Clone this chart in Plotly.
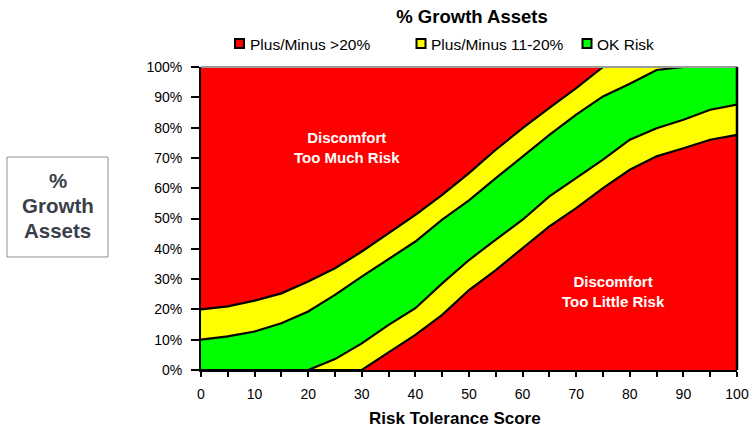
import plotly.graph_objects as go

# Risk tolerance score (x) and boundary curves of the comfort bands (% growth assets)
score = [0, 5, 10, 15, 20, 25, 30, 35, 40, 45, 50, 55, 60, 65, 70, 75, 80, 85, 90, 95, 100]
upper_outer = [20, 21, 22.9, 25.3, 29.2, 33.6, 39.1, 45.2, 51.2, 57.8, 65, 72.7, 79.8, 86.5, 93, 100, 100, 100, 100, 100, 100]
upper_inner = [10, 11.1, 12.7, 15.4, 19.3, 24.8, 30.8, 36.6, 42.4, 49.6, 56, 63.3, 70.5, 77.6, 84.3, 90.3, 94.5, 99, 100, 100, 100]
lower_inner = [0, 0, 0, 0, 0, 3.6, 8.8, 14.9, 20.4, 28.6, 36.3, 43, 49.6, 57.3, 63.3, 69.4, 76, 79.8, 82.6, 85.9, 87.6]
lower_outer = [0, 0, 0, 0, 0, 0, 0, 5.8, 11.6, 18.2, 26.4, 33, 40.2, 47.4, 53.4, 60, 66.1, 70.5, 73.2, 76, 77.6]

y_ticks = [0, 10, 20, 30, 40, 50, 60, 70, 80, 90, 100]
y_labels = [f"{v}%" for v in y_ticks]
x_ticks = [0, 10, 20, 30, 40, 50, 60, 70, 80, 90, 100]

legend_names = ["Plus/Minus >20%", "Plus/Minus 11-20%", "OK Risk"]

RED, YELLOW, GREEN = "#FF0000", "#FFFF00", "#00FF00"
legend_colors = [RED, YELLOW, GREEN]
FONT = "Arial, Liberation Sans, sans-serif"

# plot-area geometry in pixels
L, R, T, B = 201, 737, 67, 370
PW, PH = R - L, B - T


def px_x(p):
    return (p - L) / PW


def px_y(p):
    return (B - p) / PH


fig = go.Figure()

# yellow band (+/- 11-20%)
fig.add_trace(go.Scatter(x=score, y=lower_outer, mode="lines", line=dict(width=0),
                         showlegend=False, hoverinfo="skip"))
fig.add_trace(go.Scatter(x=score, y=upper_outer, mode="lines", line=dict(width=0),
                         fill="tonexty", fillcolor=YELLOW, showlegend=False, hoverinfo="skip"))
# green band (OK risk)
fig.add_trace(go.Scatter(x=score, y=lower_inner, mode="lines", line=dict(width=0),
                         showlegend=False, hoverinfo="skip"))
fig.add_trace(go.Scatter(x=score, y=upper_inner, mode="lines", line=dict(width=0),
                         fill="tonexty", fillcolor=GREEN, showlegend=False, hoverinfo="skip"))

# black boundary lines
for series in (upper_outer, upper_inner, lower_inner, lower_outer):
    fig.add_trace(go.Scatter(x=score, y=series, mode="lines",
                             line=dict(color="black", width=2.2),
                             showlegend=False, hoverinfo="skip"))

fig.update_layout(
    width=753, height=430,
    margin=dict(l=L, r=753 - R, t=T, b=430 - B, autoexpand=False),
    paper_bgcolor="white",
    plot_bgcolor=RED,
    font=dict(family=FONT, size=13, color="black"),
    title=dict(text="<b>% Growth Assets</b>", x=(472 / 753), xanchor="center",
               y=1 - 17 / 430, yanchor="middle", font=dict(size=18.5, family=FONT)),
    showlegend=False,
)

fig.update_xaxes(range=[0, 100], tickvals=x_ticks, ticks="outside", ticklen=5,
                 tickwidth=2, tickcolor="black", showgrid=False, zeroline=False,
                 showline=True, linecolor="black", linewidth=2, automargin=False,
                 ticklabelstandoff=5,
                 minor=dict(dtick=5, ticks="outside", ticklen=5, tickwidth=2, tickcolor="black"),
                 tickfont=dict(size=14, family=FONT))
fig.update_yaxes(range=[0, 100], tickvals=y_ticks, ticktext=y_labels, ticks="outside",
                 ticklen=8, tickwidth=2, tickcolor="black", showgrid=False, zeroline=False,
                 showline=True, linecolor="black", linewidth=2, automargin=False,
                 ticklabelstandoff=6, tickfont=dict(size=14, family=FONT))

# x-axis caption
fig.add_annotation(xref="paper", yref="paper", x=px_x(455), y=px_y(418),
                   text="<b>Risk Tolerance Score</b>", showarrow=False,
                   xanchor="center", yanchor="middle", font=dict(size=17, family=FONT))

# plot frame: gray top edge, black right edge
fig.add_shape(type="line", xref="paper", yref="paper", x0=0, x1=1, y0=1, y1=1,
              line=dict(color="#9a9a9a", width=2))
fig.add_shape(type="line", xref="paper", yref="paper", x0=1, x1=1, y0=0, y1=1,
              line=dict(color="black", width=2.5))

# legend row: swatch + label for each band colour
for name, col, sx in zip(legend_names, legend_colors, (239.5, 421, 587)):
    fig.add_shape(type="rect", xref="paper", yref="paper",
                  x0=px_x(sx - 4.5), x1=px_x(sx + 4.5), y0=px_y(48), y1=px_y(39),
                  line=dict(color="black", width=2), fillcolor=col)
    fig.add_annotation(xref="paper", yref="paper", x=px_x(sx + 8), y=px_y(44),
                       text=name, showarrow=False, xanchor="left", yanchor="middle",
                       font=dict(size=15.5, color="black", family=FONT))

# region labels
fig.add_annotation(x=27.3, y=73.5, text="<b>Discomfort<br>Too Much Risk</b>", showarrow=False,
                   font=dict(color="white", size=15, family=FONT))
fig.add_annotation(x=76.9, y=26, text="<b>Discomfort<br>Too Little Risk</b>", showarrow=False,
                   font=dict(color="white", size=15, family=FONT))

# y-axis caption box on the left
fig.add_shape(type="rect", xref="paper", yref="paper",
              x0=px_x(7), x1=px_x(108), y0=px_y(257), y1=px_y(157),
              line=dict(color="#8a8f99", width=1), fillcolor="white")
for txt, py in (("%", 180), ("Growth", 205), ("Assets", 230)):
    fig.add_annotation(xref="paper", yref="paper", x=px_x(57.5), y=px_y(py),
                       text=f"<b>{txt}</b>", showarrow=False, xanchor="center", yanchor="middle",
                       font=dict(size=20.5, color="#3a3f4b", family=FONT))

fig.write_html("out.html")
